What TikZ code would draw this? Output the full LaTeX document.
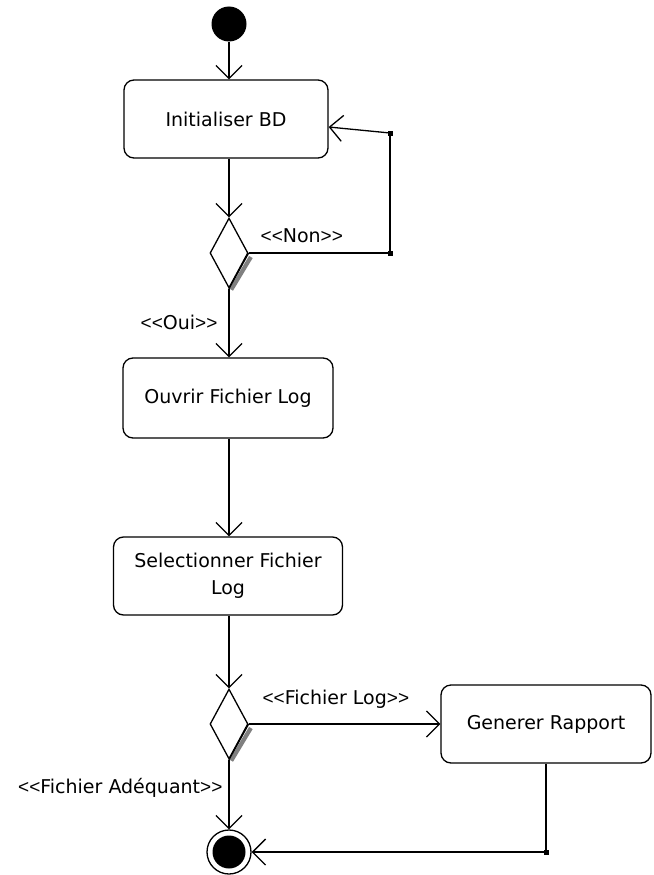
\documentclass[tikz,border=0pt]{standalone}
\usepackage{fontspec}
\setmainfont{DejaVu Sans}
\newfontfamily\brfont{Liberation Sans}
\usetikzlibrary{arrows.meta,shapes.geometric}
% guard marks << >> around a guard text
\newcommand\stereo[1]{{\brfont<\kern0pt<}#1{\brfont>\kern0pt>}}

\begin{document}
\begin{tikzpicture}[x=1pt,y=-1pt,line width=1.3pt,
  font=\fontsize{19}{27}\selectfont,
  actbox/.style={draw, rounded corners=10pt, inner sep=0pt, align=center},
  decision/.style={draw, diamond, inner sep=0pt, minimum width=38pt, minimum height=70pt},
  flow/.style={-{Straight Barb[length=13pt,width=26pt]}},
  joint/.style={fill, inner sep=0pt, minimum size=5pt},
  guard/.style={inner sep=0pt},
  shade/.style={gray, line width=4.2pt}]

\useasboundingbox (0,0) rectangle (653,875);

% states
\node[circle, fill, inner sep=0pt, minimum size=35pt] (start) at (229,24) {};
\node[actbox, minimum width=204pt, minimum height=78pt] (init) at (226,119) {Initialiser BD};
\node[decision] (d1) at (229,253) {};
\node[actbox, minimum width=210pt, minimum height=80pt] (ouvrir) at (228,398) {Ouvrir Fichier Log};
\node[actbox, minimum width=229pt, minimum height=78pt] (select) at (228,576) {Selectionner Fichier\\Log};
\node[decision] (d2) at (229,724) {};
\node[actbox, minimum width=210pt, minimum height=78pt] (gen) at (546,724) {Generer Rapport};
\node[circle, draw, inner sep=0pt, minimum size=44pt] (fin) at (229,852) {};
\node[circle, fill, inner sep=0pt, minimum size=33pt] (fincore) at (fin) {};

% shading on the decision diamonds, drawn beneath their outlines
\draw[shade] ([xshift=2.2pt,yshift=-4pt]d1.east) -- ([xshift=2.2pt,yshift=-1pt]d1.south);
\draw[shade] ([xshift=2.2pt,yshift=-4pt]d2.east) -- ([xshift=2.2pt,yshift=-1pt]d2.south);
\draw (d1.east) -- (d1.south);
\draw (d2.east) -- (d2.south);

% junction points
\node[joint] (j1) at (390,253) {};
\node[joint] (j2) at (390,133) {};
\node[joint] (j3) at (546,852) {};

% transitions
\draw[flow] (start) -- (start |- init.north);
\draw[flow] (init.south -| d1) -- (d1.north);
\draw (d1.east) -- (j1.center);
\draw (j1.center) -- (j2.center);
\draw[flow] (j2.center) -- ([yshift=-8pt]init.east);
\draw[flow] (d1.south) -- (d1.south |- ouvrir.north);
\draw[flow] (ouvrir.south -| d1) -- (select.north -| d1);
\draw[flow] (select.south -| d2) -- (d2.north);
\draw[flow] (d2.east) -- (d2.east -| gen.west);
\draw[flow] (d2.south) -- (fin.north);
\draw (gen.south) -- (j3.center);
\draw[flow] (j3.center) -- (fin.east);

% guards
\node[guard, anchor=west] (gnon) at (260,236) {\stereo{Non}};
\node[guard, anchor=east] (goui) at (218,322) {\stereo{Oui}};
\node[guard, anchor=west] (glog) at (262,699) {\stereo{Fichier Log}};
\node[guard, anchor=east] (gade) at (223,788) {\stereo{Fichier Adéquant}};
\end{tikzpicture}
\end{document}
